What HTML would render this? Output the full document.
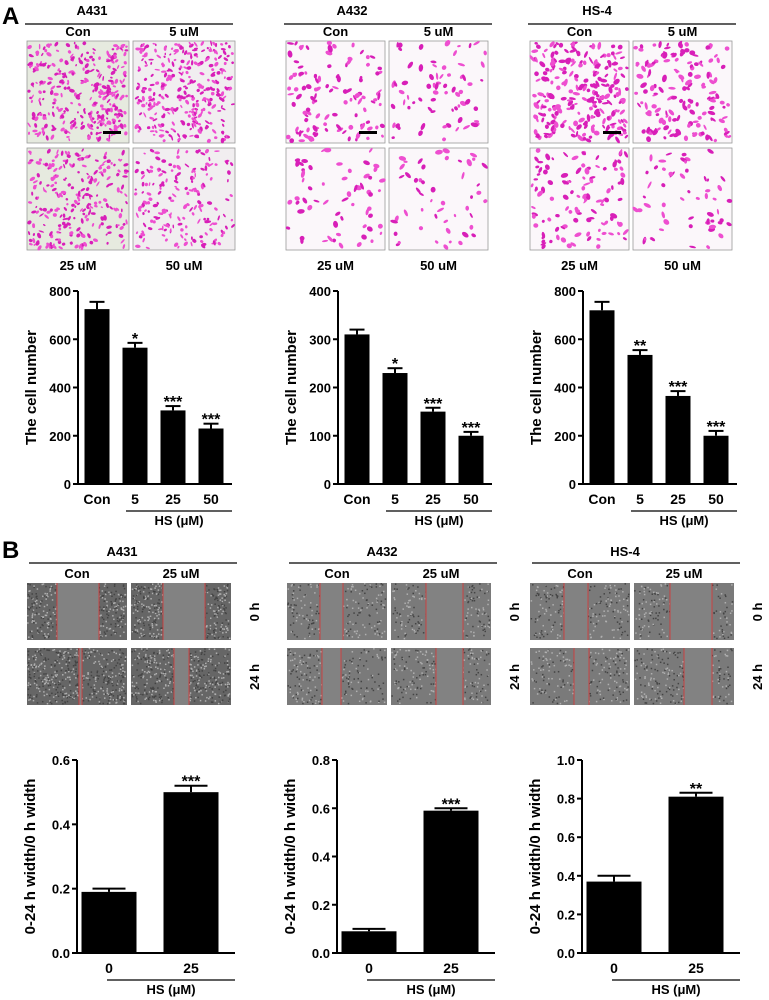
<!DOCTYPE html>
<html><head><meta charset="utf-8"><style>
body{margin:0;background:#fff;}
svg{display:block;font-family:"Liberation Sans",sans-serif;font-weight:bold;}
</style></head><body>
<svg id="fig" width="769" height="1000" viewBox="0 0 769 1000" xmlns="http://www.w3.org/2000/svg">
<g id="imgs"></g>
<g id="charts"></g>
</svg>
<script>
// Panel A data
const aGroups = ["A431", "A432", "HS-4"];
const aCategories = ["Con", "5", "25", "50"];
const aMax = [800, 400, 800];
const aTicks = [[0,200,400,600,800],[0,100,200,300,400],[0,200,400,600,800]];
const aA431 = [725, 565, 305, 230];
const aA431Err = [30, 20, 18, 20];
const aA432 = [310, 230, 150, 100];
const aA432Err = [10, 10, 8, 8];
const aHS4 = [720, 535, 365, 200];
const aHS4Err = [35, 20, 20, 20];
const aStars = [["","*","***","***"],["","*","***","***"],["","**","***","***"]];
// Panel B data
const bCategories = ["0", "25"];
const bMax = [0.6, 0.8, 1.0];
const bTicks = [["0.0","0.2","0.4","0.6"],["0.0","0.2","0.4","0.6","0.8"],["0.0","0.2","0.4","0.6","0.8","1.0"]];
const bA431 = [0.19, 0.50];
const bA431Err = [0.01, 0.02];
const bA432 = [0.09, 0.59];
const bA432Err = [0.01, 0.01];
const bHS4 = [0.37, 0.81];
const bHS4Err = [0.03, 0.02];
const bStars = [["","***"],["","***"],["","**"]];

const NS="http://www.w3.org/2000/svg";
function mk(parent,tag,attrs,text){const e=document.createElementNS(NS,tag);for(const k in attrs)e.setAttribute(k,attrs[k]);if(text!==undefined)e.textContent=text;parent.appendChild(e);return e;}
const svg=document.getElementById('fig');
const imgs=document.getElementById('imgs');
const charts=document.getElementById('charts');

let seed=7;function rnd(){seed=(seed*16807)%2147483647;return seed/2147483647;}

let t=mk(svg,'text',{x:2,y:24,'font-size':24});t.textContent='A';


t=mk(svg,'text',{x:2,y:558,'font-size':24});t.textContent='B';



const gx=[27,286,530];
const titleCx=[120,380,625];
aGroups.forEach((g,i)=>{
  const x0=gx[i];
  let tt=mk(svg,'text',{x:titleCx[i]-28,y:15,'font-size':13,'text-anchor':'middle'},g);
  
  
  mk(svg,'line',{x1:x0-2,x2:x0+206,y1:24,y2:24,stroke:'#000','stroke-width':1.2});
  const w=i==0?102:99;
  const pos=[[x0,41],[x0+w+4,41],[x0,148],[x0+w+4,148]];
  const labs=['Con','5 uM','25 uM','50 uM'];
  pos.forEach((p,k)=>{
    const g2=mk(imgs,'g',{});
    
    
    const bg=i==0?(k==0||k==2?'#e6eadf':'#f1eef0'):'#fbf7fa';
    mk(g2,'rect',{x:p[0],y:p[1],width:w,height:102,fill:bg,stroke:'#999','stroke-width':0.8});
    const dens=i==0?[320,300,240,180][k]:i==1?[110,70,60,50][k]:[240,150,110,55][k];
    const sz=i==0?0.75:1;
    for(let n=0;n<dens;n++){
      const cx=p[0]+2+rnd()*(w-4),cy=p[1]+2+rnd()*98;
      mk(g2,'ellipse',{cx:cx,cy:cy,rx:(1.5+rnd()*2.5)*sz,ry:(1+rnd()*1.5)*sz,fill:rnd()<0.5?'#d81fb8':'#ee4fd0',transform:`rotate(${rnd()*180} ${cx} ${cy})`});
    }
    if(k==0) mk(g2,'rect',{x:p[0]+w-26,y:p[1]+90,width:18,height:3,fill:'#000'});
    const ly=k<2?36:270;
    mk(svg,'text',{x:p[0]+w/2,y:ly,'font-size':13,'text-anchor':'middle'},labs[k]);
  });
});

const bgx=[27,287,530];
aGroups.forEach((g,i)=>{
  const x0=bgx[i];
  let tt=mk(svg,'text',{x:x0+95,y:556,'font-size':13,'text-anchor':'middle'},g);
  
  
  mk(svg,'line',{x1:x0+2,x2:x0+210,y1:563,y2:563,stroke:'#000','stroke-width':1.2});
  const w=100;
  const pos=[[x0,583],[x0+w+4,583],[x0,648],[x0+w+4,648]];
  const gaps=i==0?[[30,72],[32,74],[52,55],[43,58]]:i==1?[[33,56],[35,72],[35,54],[45,72]]:[[34,58],[36,78],[44,59],[50,78]];
  pos.forEach((p,k)=>{
    const g2=mk(imgs,'g',{});
    
    
    const side=i==0?'#666':'#7a7a7a';
    mk(g2,'rect',{x:p[0],y:p[1],width:w,height:57,fill:side});
    for(let n=0;n<(i==0?500:260);n++){
      mk(g2,'rect',{x:p[0]+rnd()*(w-2),y:p[1]+rnd()*55,width:1.5,height:1.5,fill:rnd()<0.5?'#b0b0b0':'#444'});
    }
    const gp=gaps[k];
    mk(g2,'rect',{x:p[0]+gp[0],y:p[1],width:gp[1]-gp[0],height:57,fill:'#828282'});
    mk(g2,'line',{x1:p[0]+gp[0],x2:p[0]+gp[0],y1:p[1],y2:p[1]+57,stroke:'#d33','stroke-width':0.8});
    mk(g2,'line',{x1:p[0]+gp[1],x2:p[0]+gp[1],y1:p[1],y2:p[1]+57,stroke:'#d33','stroke-width':0.8});
  });
  mk(svg,'text',{x:x0+50,y:578,'font-size':13,'text-anchor':'middle'},'Con');
  mk(svg,'text',{x:x0+154,y:578,'font-size':13,'text-anchor':'middle'},'25 uM');
  mk(svg,'text',{x:0,y:0,'font-size':13,'text-anchor':'middle',transform:`translate(${x0+232},612) rotate(-90)`},'0 h');
  mk(svg,'text',{x:0,y:0,'font-size':13,'text-anchor':'middle',transform:`translate(${x0+232},677) rotate(-90)`},'24 h');
});

function chart(opts){
  const {ax,y0,ytop,max,ticks,tickLabels,vals,errs,stars,cats,centers,bw,xend,hsFrom,ylabel,name}=opts;
  const g=mk(charts,'g',{});
  
  
  const Y=v=>y0-(v/max)*(y0-ytop);
  mk(g,'line',{x1:ax,x2:ax,y1:ytop,y2:y0,stroke:'#000','stroke-width':2});
  mk(g,'line',{x1:ax,x2:xend,y1:y0,y2:y0,stroke:'#000','stroke-width':2});
  ticks.forEach((v,i)=>{
    mk(g,'line',{x1:ax-5,x2:ax,y1:Y(v),y2:Y(v),stroke:'#000','stroke-width':2});
    const tl=mk(g,'text',{x:ax-7,y:Y(v)+5,'font-size':13,'text-anchor':'end'},tickLabels[i]);
    
    
  });
  vals.forEach((v,i)=>{
    const cx=centers[i];
    const b=mk(g,'rect',{x:cx-bw/2,y:Y(v),width:bw,height:y0-Y(v),fill:'#000'});
    
    
    const ye=Y(v+errs[i]);
    mk(g,'line',{x1:cx,x2:cx,y1:ye,y2:Y(v),stroke:'#000','stroke-width':2});
    mk(g,'line',{x1:cx-bw*0.3,x2:cx+bw*0.3,y1:ye,y2:ye,stroke:'#000','stroke-width':2});
    if(stars[i]){const s=mk(g,'text',{x:cx,y:ye+1,'font-size':16,'text-anchor':'middle'},stars[i]);
      
      }
    const xl=mk(g,'text',{x:cx,y:y0+20,'font-size':14,'text-anchor':'middle'},cats[i]);
    
    
  });
  mk(g,'line',{x1:hsFrom,x2:xend,y1:y0+27,y2:y0+27,stroke:'#000','stroke-width':1.2});
  mk(g,'text',{x:(hsFrom+xend)/2,y:y0+41,'font-size':13,'text-anchor':'middle'},'HS (\u03bcM)');
  const yl=mk(g,'text',{x:0,y:0,'font-size':15,'text-anchor':'middle',transform:`translate(${ax-42},${(y0+ytop)/2}) rotate(-90)`},ylabel);
  
  
}
const aVals=[aA431,aA432,aHS4],aErrs=[aA431Err,aA432Err,aHS4Err];
const aAx=[78,338,583];
aGroups.forEach((g,i)=>{
  const ax=aAx[i];
  chart({ax,y0:484,ytop:291,max:aMax[i],ticks:aTicks[i],tickLabels:aTicks[i].map(String),vals:aVals[i],errs:aErrs[i],stars:aStars[i],cats:aCategories,
    centers:aCategories.map((c,k)=>ax+19+38*k),bw:25,xend:ax+154,hsFrom:ax+48,ylabel:'The cell number',name:'chart-a-'+g.toLowerCase()});
});
const bVals=[bA431,bA432,bHS4],bErrs=[bA431Err,bA432Err,bHS4Err];
const bAx=[77,337,582];
aGroups.forEach((g,i)=>{
  const ax=bAx[i];
  chart({ax,y0:953,ytop:760,max:bMax[i],ticks:bTicks[i].map(Number),tickLabels:bTicks[i],vals:bVals[i],errs:bErrs[i],stars:bStars[i],cats:bCategories,
    centers:bCategories.map((c,k)=>ax+32+82*k),bw:55,xend:ax+158,hsFrom:ax+30,ylabel:'0-24 h width/0 h width',name:'chart-b-'+g.toLowerCase()});
});
</script>
</body></html>
